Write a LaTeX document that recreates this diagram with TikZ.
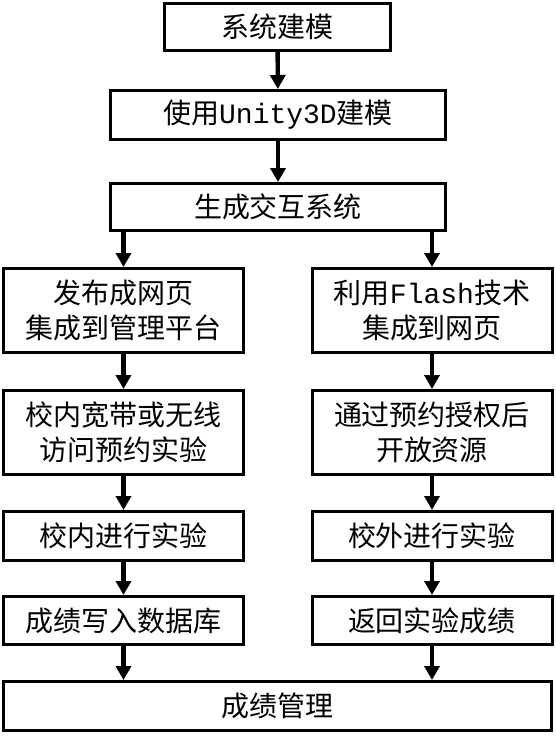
\documentclass[tikz,border=0pt]{standalone}
\usepackage{fontspec}
\setmainfont{Noto Sans CJK SC}
\setmonofont{Liberation Mono}
\usetikzlibrary{arrows.meta}

\begin{document}
\begin{tikzpicture}[x=0.5pt, y=-0.5pt,
    box/.style={draw, line width=1.5pt, align=center, inner sep=0pt,
        font=\fontsize{14pt}{17.5pt}\selectfont},
    wide/.style={box, minimum width=167.5pt},
    col/.style={box, minimum width=120pt},
    flow/.style={-{Triangle[length=7pt, width=7.5pt]}, line width=2.2pt}]
\useasboundingbox (0, 0) rectangle (556, 741);

\node[box, minimum width=113pt, minimum height=23.5pt] (model) at (277.5, 27) {系统建模};
\node[wide, minimum height=24.5pt] (unity) at (278, 115) {使用\texttt{Unity3D}建模};
\node[wide, minimum height=23.5pt] (gen) at (278, 207) {生成交互系统};

% left branch
\node[col, minimum height=42pt] (web) at (123.5, 310.5) {发布成网页\\集成到管理平台};
\node[col, minimum height=42pt] (lan) at (123.5, 432.5) {校内宽带或无线\\访问预约实验};
\node[col, minimum height=24.5pt] (inlab) at (123.5, 536) {校内进行实验};
\node[col, minimum height=24pt] (db) at (123.5, 620.5) {成绩写入数据库};

% right branch
\node[col, minimum height=42pt] (flash) at (432, 310.5) {利用\texttt{Flash}技术\\集成到网页};
\node[col, minimum height=42pt] (auth) at (432, 432.5) {通过预约授权后\\开放资源};
\node[col, minimum height=24.5pt] (outlab) at (432, 536) {校外进行实验};
\node[col, minimum height=24pt] (ret) at (432, 620.5) {返回实验成绩};

\node[box, minimum width=274pt, minimum height=24.5pt] (mgmt) at (277.5, 706) {成绩管理};

\draw[flow] (model) -- (unity);
\draw[flow] (unity) -- (gen);
\draw[flow] (gen.south -| web.north) -- (web);
\draw[flow] (gen.south -| flash.north) -- (flash);
\foreach \a/\b in {web/lan, lan/inlab, inlab/db, flash/auth, auth/outlab,
	outlab/ret} {
    \draw[flow] (\a) -- (\b);
}
\draw[flow] (db) -- (db |- mgmt.north);
\draw[flow] (ret) -- (ret |- mgmt.north);
\end{tikzpicture}
\end{document}
